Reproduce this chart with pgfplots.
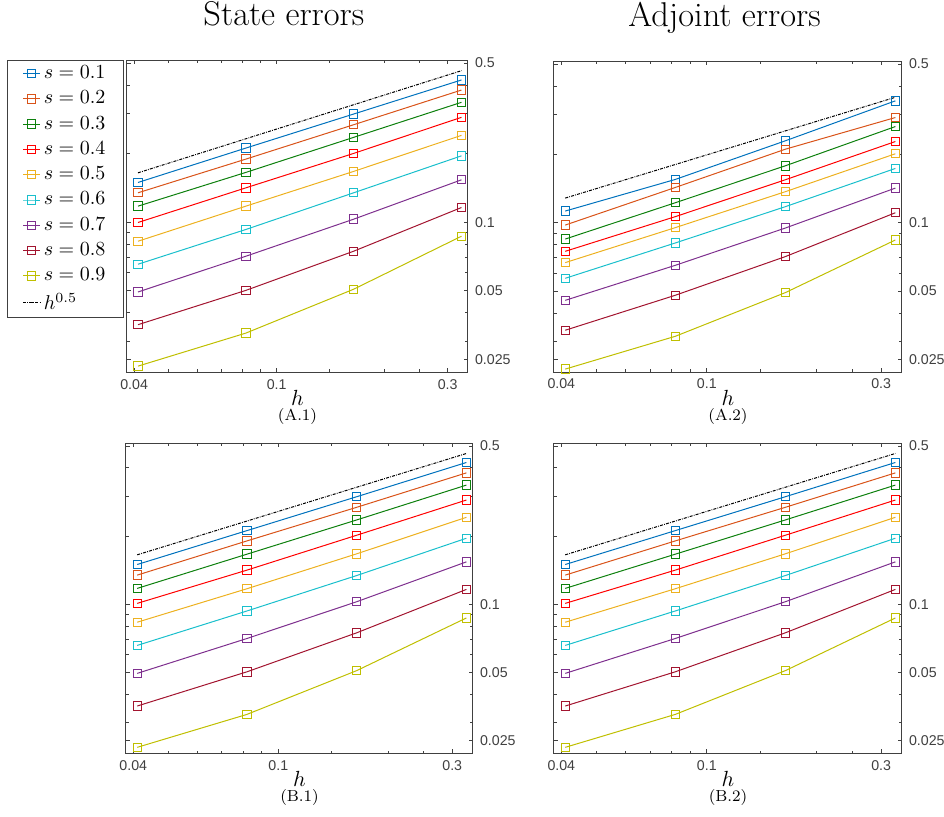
\documentclass[border=0pt]{standalone}
\usepackage{pgfplots}
\pgfplotsset{compat=1.18}
\usepackage{pgfplotstable}
\usepackage{fontspec}
\newfontfamily\tickfont{Liberation Sans}

\definecolor{c1}{rgb}{0,0.447,0.741}
\definecolor{c2}{rgb}{0.85,0.325,0.098}
\definecolor{c3}{rgb}{0.05,0.5,0.05}
\definecolor{c4}{rgb}{1,0,0}
\definecolor{c5}{rgb}{0.929,0.694,0.125}
\definecolor{c6}{rgb}{0.1,0.75,0.8}
\definecolor{c7}{rgb}{0.494,0.184,0.556}
\definecolor{c8}{rgb}{0.635,0.078,0.184}
\definecolor{c9}{rgb}{0.75,0.75,0}
\definecolor{axgray}{gray}{0.25}

% state errors (A.1)
\pgfplotstableread{
h     s1     s2     s3     s4     s5     s6     s7     s8     s9
0.041 0.1494 0.1346 0.1176 0.0997 0.0825 0.0654 0.0494 0.0355 0.02335
0.082 0.2115 0.1892 0.1654 0.1415 0.1176 0.0929 0.0709 0.0502 0.0326
0.164 0.2984 0.2678 0.2357 0.2004 0.1671 0.1346 0.1031 0.0746 0.0508
0.328 0.4210 0.3803 0.3359 0.2886 0.2405 0.1956 0.1535 0.1160 0.0868
}\stateA
% adjoint errors (A.2)
\pgfplotstableread{
h     s1     s2     s3     s4     s5     s6     s7     s8     s9
0.041 0.1125 0.0976 0.0847 0.0748 0.0667 0.0569 0.0455 0.0336 0.02266
0.082 0.1550 0.1429 0.1224 0.1063 0.0951 0.0814 0.0649 0.0479 0.0316
0.164 0.2293 0.2106 0.1780 0.1545 0.1369 0.1176 0.0947 0.0709 0.0492
0.328 0.3439 0.2904 0.2650 0.2277 0.2011 0.1733 0.1420 0.1106 0.0839
}\adjA
% row B (B.1 and B.2)
\pgfplotstableread{
h     s1     s2     s3     s4     s5     s6     s7     s8     s9
0.041 0.1499 0.1346 0.1176 0.1010 0.0834 0.0659 0.0496 0.0356 0.0234
0.082 0.2115 0.1905 0.1665 0.1416 0.1172 0.0935 0.0707 0.0504 0.0327
0.164 0.2984 0.2680 0.2357 0.2018 0.1671 0.1340 0.1027 0.0749 0.0510
0.328 0.4226 0.3803 0.3359 0.2886 0.2421 0.1958 0.1540 0.1164 0.0871
}\rowB

\newcommand{\errplots}[1]{%
  \addplot table[x=h,y=s1]{#1};
  \addplot table[x=h,y=s2]{#1};
  \addplot table[x=h,y=s3]{#1};
  \addplot table[x=h,y=s4]{#1};
  \addplot table[x=h,y=s5]{#1};
  \addplot table[x=h,y=s6]{#1};
  \addplot table[x=h,y=s7]{#1};
  \addplot table[x=h,y=s8]{#1};
  \addplot table[x=h,y=s9]{#1};}

\pgfplotsset{
  sq/.style={draw=#1, mark=square, mark options={draw=#1, fill=none, solid}},
  every axis/.append style={
    scale only axis,
    xmode=log, ymode=log,
    xmin=0.0382, xmax=0.342, ymin=0.022, ymax=0.515,
    xtick={0.04,0.1,0.3}, xticklabels={0.04,0.1,0.3},
    minor xtick={0.05,0.06,0.07,0.08,0.09,0.14,0.2,0.25},
    ytick={0.025,0.05,0.1,0.5}, yticklabels={0.025,0.05,0.1,0.5},
    minor ytick={0.03,0.04,0.06,0.07,0.08,0.09,0.2,0.3,0.4},
    yticklabel pos=right,
    axis line style={axgray, line width=0.5pt},
    tick style={axgray, line width=0.4pt},
    major tick length=2.2pt, minor tick length=1.3pt,
    ticklabel style={font=\tickfont\fontsize{7.1}{8}\selectfont, text=axgray},
    xlabel={$h$},
    xlabel style={at={(axis description cs:0.5,0)}, anchor=base, yshift=-16.5pt,
      font=\fontsize{10.5}{12}\selectfont},
    title style={anchor=base, yshift=11.5pt, font=\fontsize{17.2}{20}\selectfont},
    cycle list={
      {sq=c1},{sq=c2},{sq=c3},{sq=c4},{sq=c5},
      {sq=c6},{sq=c7},{sq=c8},{sq=c9}},
  },
  every axis plot/.append style={line width=0.5pt, mark size=2.1pt},
}
\tikzset{refline/.style={draw=black, line width=0.5pt,
    dash pattern=on 1.5pt off 0.6pt on 0.4pt off 0.6pt},
  capnode/.style={anchor=base, font=\fontsize{8}{9}\selectfont}}

\begin{document}
\begin{tikzpicture}
\useasboundingbox (0,0) rectangle (472pt,-408pt);

\begin{axis}[name=A1, anchor=north west, at={(63.5pt,-30pt)}, width=170.5pt, height=156pt,
  title={State errors}, title style={at={(axis description cs:0.46,1)}},
  legend style={at={(axis description cs:0,1)}, anchor=north east, xshift=-1.5pt,
    draw=axgray, font=\fontsize{10}{12}\selectfont, legend cell align=left,
    inner xsep=7.5pt, inner ysep=1pt, row sep=1.5pt,
    nodes={inner sep=1.6pt}},
  legend image code/.code={\draw[mark repeat=2,mark phase=2,#1]
    plot coordinates {(0cm,0cm) (0.15cm,0cm) (0.3cm,0cm)};}]
\errplots{\stateA}
\addplot[refline, mark=none] coordinates {(0.041,0.1647) (0.328,0.4624)};
\legend{$s=0.1$,$s=0.2$,$s=0.3$,$s=0.4$,$s=0.5$,$s=0.6$,$s=0.7$,$s=0.8$,$s=0.9$,$h^{0.5}$}
\end{axis}
\node[capnode] at ([yshift=-24pt]A1.south) {(A.1)};

\begin{axis}[name=A2, anchor=north west, at={(277pt,-30.5pt)}, width=174pt, height=155.5pt,
  title={Adjoint errors}, title style={at={(axis description cs:0.49,1)}}]
\errplots{\adjA}
\addplot[refline, mark=none] coordinates {(0.041,0.1283) (0.328,0.3565)};
\end{axis}
\node[capnode] at ([yshift=-24pt]A2.south) {(A.2)};

\begin{axis}[name=B1, anchor=north west, at={(63pt,-221.5pt)}, width=173.5pt, height=155.2pt]
\errplots{\rowB}
\addplot[refline, mark=none] coordinates {(0.041,0.1654) (0.328,0.4631)};
\end{axis}
\node[capnode] at ([yshift=-24pt]B1.south) {(B.1)};

\begin{axis}[name=B2, anchor=north west, at={(277pt,-221.5pt)}, width=174pt, height=155.2pt]
\errplots{\rowB}
\addplot[refline, mark=none] coordinates {(0.041,0.1654) (0.328,0.4631)};
\end{axis}
\node[capnode] at ([yshift=-24pt]B2.south) {(B.2)};
\end{tikzpicture}
\end{document}
